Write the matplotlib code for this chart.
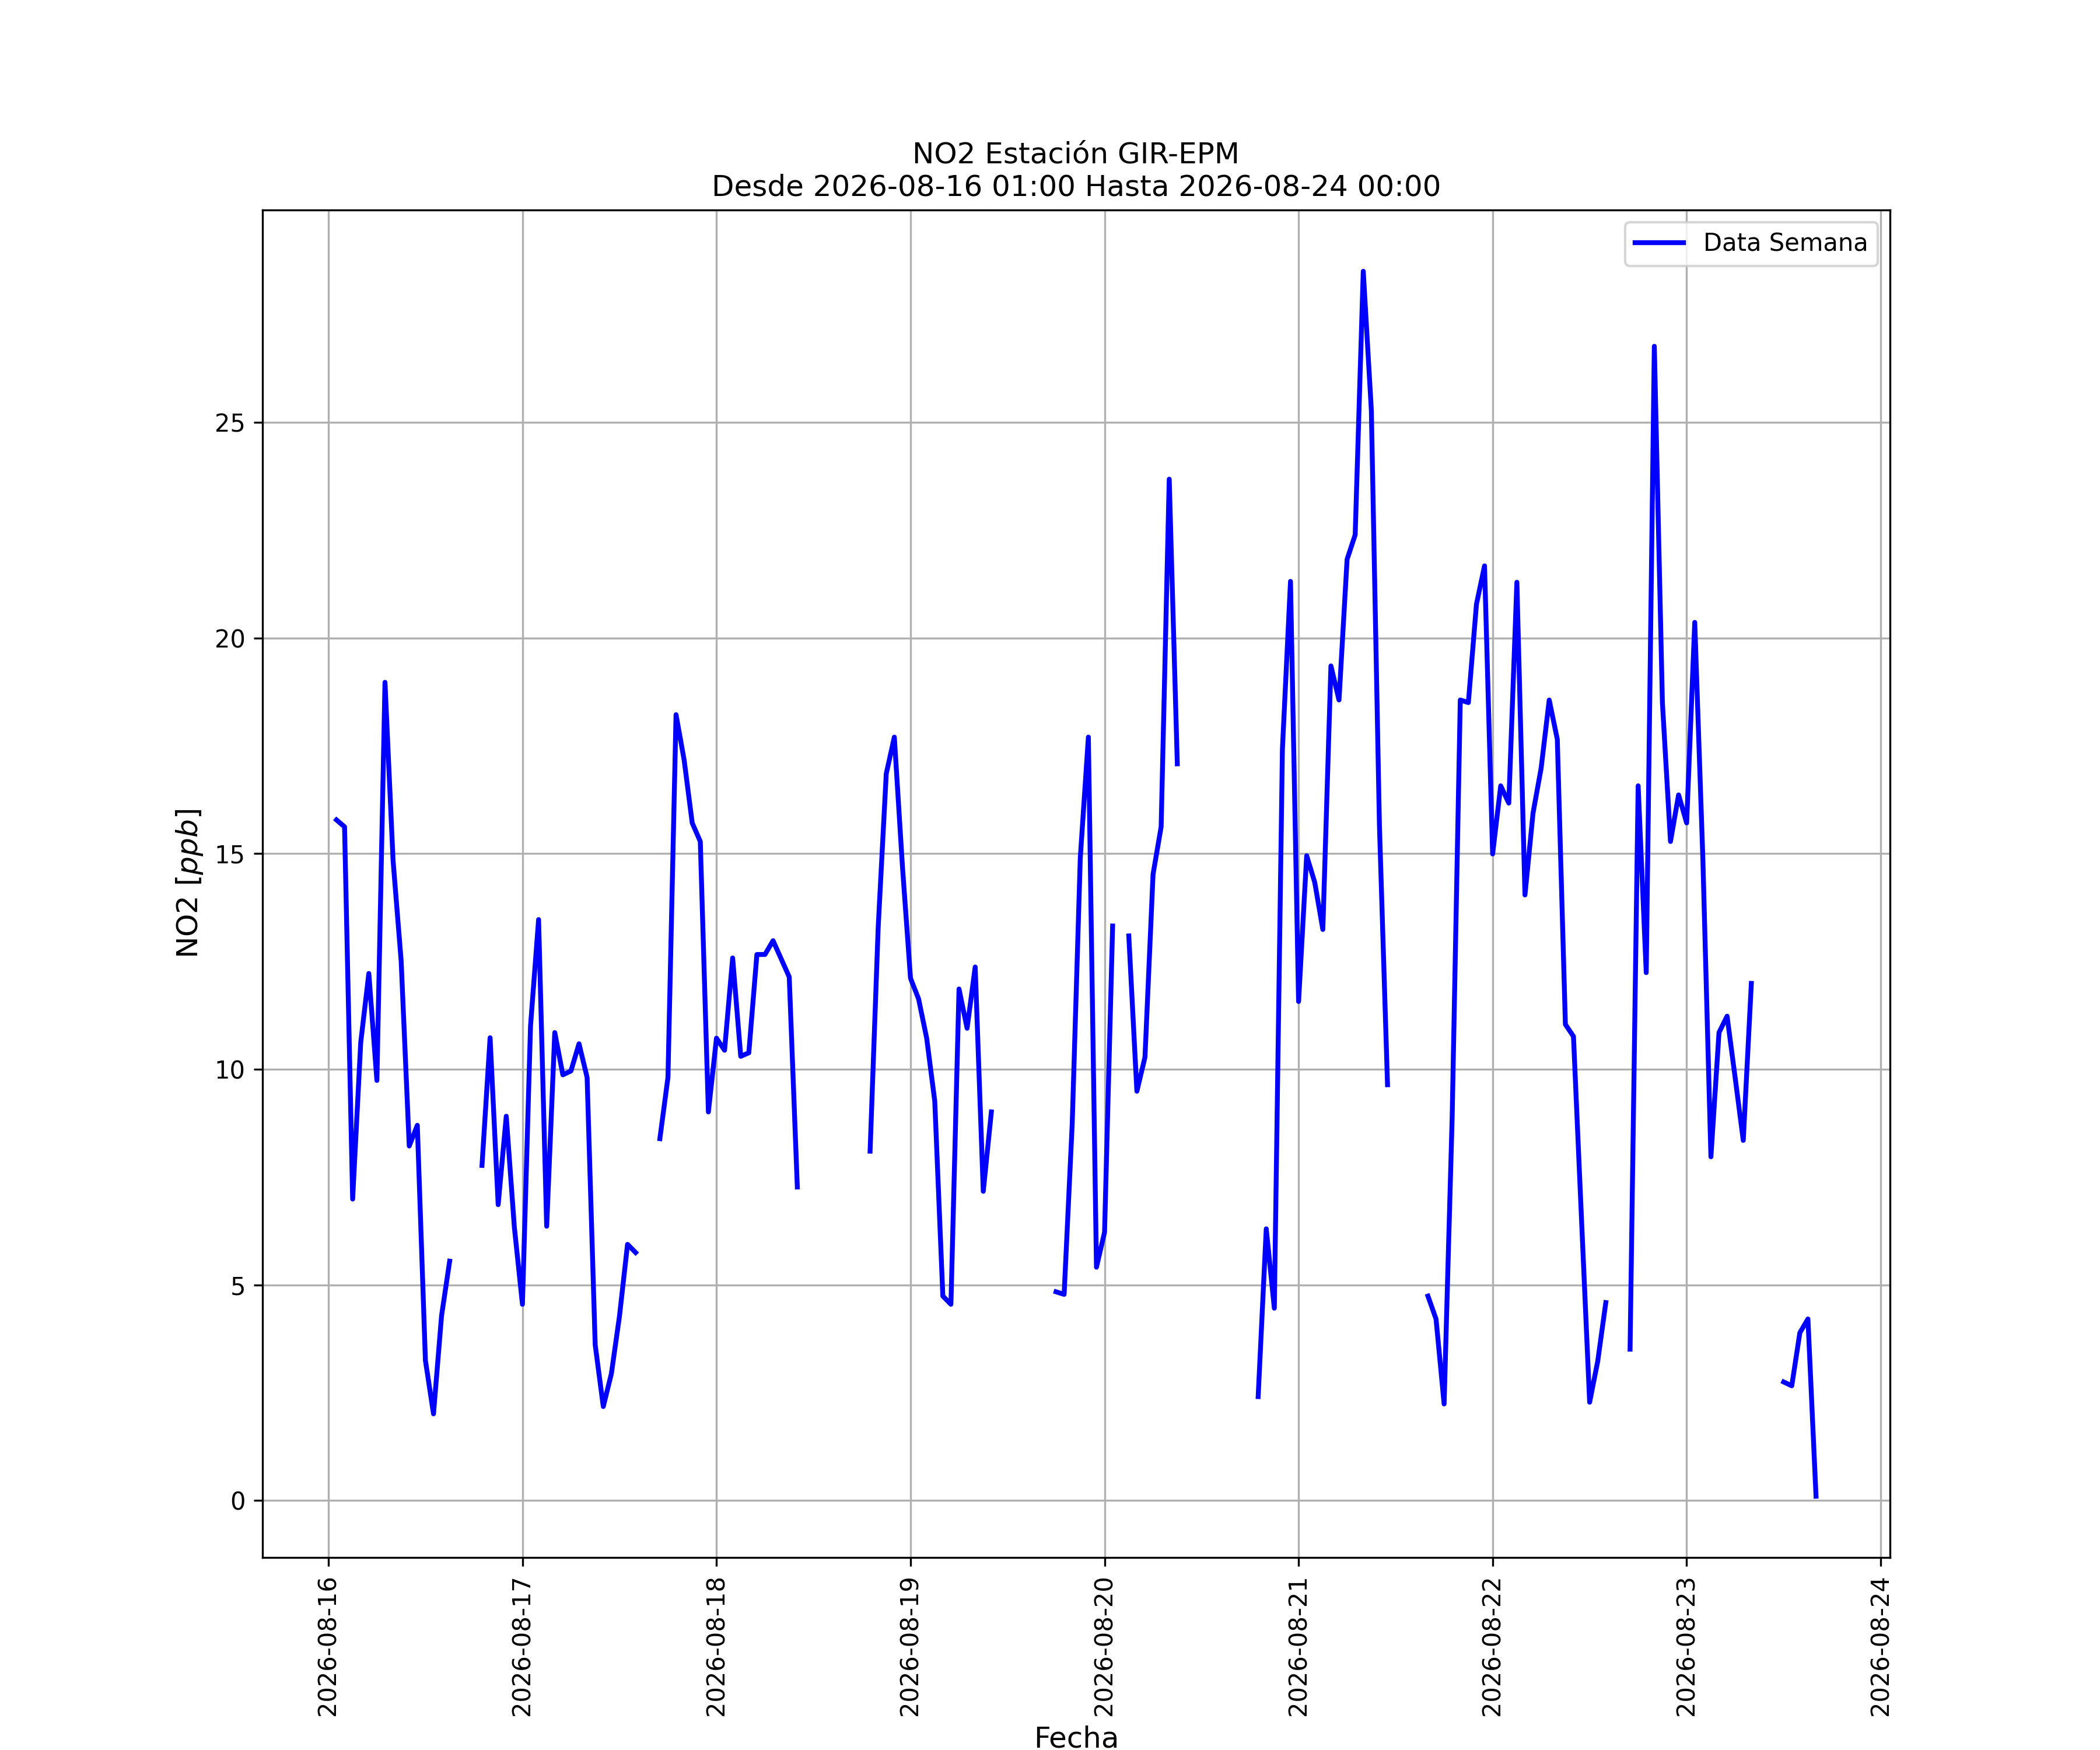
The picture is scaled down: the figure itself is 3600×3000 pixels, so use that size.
import matplotlib
matplotlib.use('Agg')
import matplotlib.pyplot as plt
import matplotlib.dates as mdates
import numpy as np
import pandas as pd

nan = np.nan

# hourly NO2 values [ppb], one list per day (day 16 starts at 01:00)
no2_d16 = [15.78, 15.62, 6.99, 10.62, 12.22, 9.74, 18.97, 14.84, 12.51, 8.22,
           8.70, 3.25, 2.01, 4.29, 5.55, nan, nan, nan, 7.77, 10.73, 6.86,
           8.91, 6.34]
no2_d17 = [4.55, 11.00, 13.47, 6.36, 10.85, 9.87, 9.96, 10.59, 9.81, 3.61,
           2.18, 2.94, 4.27, 5.94, 5.75, nan, nan, 8.39, 9.81, 18.22, 17.17,
           15.71, 15.28, 9.01]
no2_d18 = [10.72, 10.44, 12.58, 10.30, 10.38, 12.66, 12.66, 12.98, 12.56,
           12.14, 7.27, nan, nan, nan, nan, nan, nan, nan, nan, 8.10, 13.28,
           16.85, 17.70, 14.71]
no2_d19 = [12.11, 11.63, 10.72, 9.26, 4.74, 4.55, 11.86, 10.95, 12.37, 7.17,
           9.01, nan, nan, nan, nan, nan, nan, nan, 4.84, 4.78, 8.73, 14.90,
           17.70, 5.41]
no2_d20 = [6.22, 13.32, nan, 13.09, 9.49, 10.28, 14.52, 15.62, 23.68, 17.08,
           nan, nan, nan, nan, nan, nan, nan, nan, nan, 2.41, 6.30, 4.46,
           17.42, 21.31]
no2_d21 = [11.57, 14.95, 14.33, 13.24, 19.35, 18.56, 21.82, 22.39, 28.50,
           25.28, 15.65, 9.64, nan, nan, nan, nan, 4.74, 4.21, 2.24, 8.92,
           18.56, 18.50, 20.78, 21.67]
no2_d22 = [14.99, 16.57, 16.17, 21.29, 14.04, 15.94, 16.98, 18.56, 17.65,
           11.04, 10.76, 6.50, 2.28, 3.23, 4.59, nan, nan, 3.51, 16.57, 12.24,
           26.76, 18.50, 15.28, 16.36]
no2_d23 = [15.71, 20.36, 14.90, 7.97, 10.85, 11.23, 9.80, 8.35, 11.99, nan,
           nan, nan, 2.75, 2.66, 3.89, 4.21, 0.10, nan, nan, nan, nan, nan,
           nan, nan]
no2_d24 = [nan]

fecha_inicio = '2026-08-16 01:00'
fecha_fin = '2026-08-24 00:00'

no2 = (no2_d16 + no2_d17 + no2_d18 + no2_d19 + no2_d20 + no2_d21 + no2_d22
       + no2_d23 + no2_d24)
fechas = pd.date_range(fecha_inicio, fecha_fin, freq='h')
df = pd.DataFrame({'fecha': fechas, 'no2': no2})

f, ax = plt.subplots(figsize=(12, 10))
ax.plot(df.fecha, df.no2, color='blue', linewidth=2, label='Data Semana')

ax.set_title(f'NO2 Estación GIR-EPM\nDesde {fecha_inicio} Hasta {fecha_fin}',
             fontsize=12)
ax.set_xlabel('Fecha', fontsize=12)
ax.set_ylabel('NO2 [$ppb$]', fontsize=12)
ax.xaxis.set_major_locator(mdates.DayLocator())
ax.xaxis.set_major_formatter(mdates.DateFormatter('%Y-%m-%d'))
plt.setp(ax.get_xticklabels(), rotation=90)
ax.grid(True)
ax.legend(loc='upper right')

f.savefig('out.png', dpi=300)
plt.close(f)
